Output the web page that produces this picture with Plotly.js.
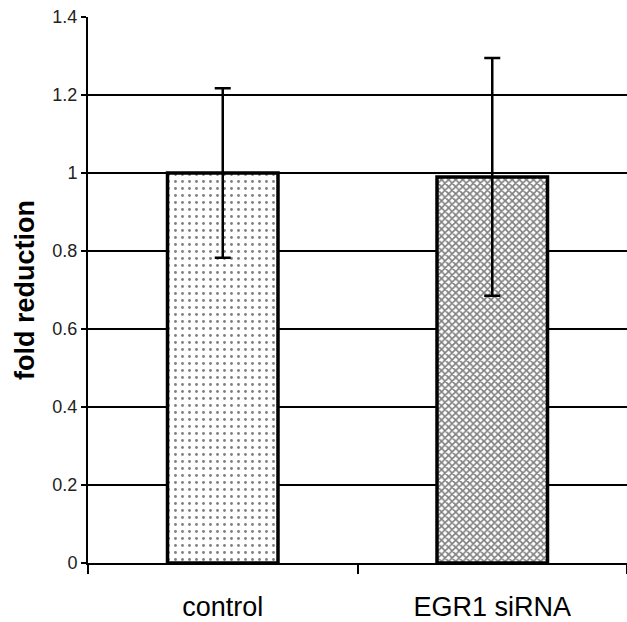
<!DOCTYPE html>
<html>
<head>
<meta charset="utf-8">
<script src="https://cdn.plot.ly/plotly-3.0.1.min.js"></script>
<style>html,body{margin:0;padding:0;background:#fff;}</style>
</head>
<body>
<div id="chart" style="width:627px;height:622px;"></div>
<script>
var categories = ["control", "EGR1 siRNA"];
var foldValues = [1.0, 0.99];
var errorValues = [0.217, 0.305];
var yTickValues = [0, 0.2, 0.4, 0.6, 0.8, 1, 1.2, 1.4];
var yTickLabels = ["0", "0.2", "0.4", "0.6", "0.8", "1", "1.2", "1.4"];

var trace = {
  type: "bar",
  x: categories,
  y: foldValues,
  width: 0.41,
  error_y: {type: "data", array: errorValues, visible: true, color: "#000", thickness: 2.5, width: 8},
  marker: {
    color: "#fff",
    line: {color: "#000", width: 3.5},
    pattern: {
      shape: [".", "x"],
      size: [7, 5],
      solidity: [0.13, 0.55],
      fgcolor: "#000",
      bgcolor: "#fff",
      fillmode: "overlay"
    }
  },
  hoverinfo: "none"
};

var layout = {
  width: 627, height: 622,
  margin: {l: 88, r: 0, t: 17, b: 59, pad: 0},
  paper_bgcolor: "#fff", plot_bgcolor: "#fff",
  showlegend: false,
  font: {family: "Liberation Sans, Arial, sans-serif", color: "#000"},
  xaxis: {
    type: "category",
    range: [-0.5, 1.5],
    tickson: "boundaries",
    ticks: "outside", ticklen: 9, tickwidth: 2, tickcolor: "#000",
    showline: true, linecolor: "#000", linewidth: 2,
    showgrid: false, zeroline: false,
    tickfont: {size: 27, color: "#000"},
    ticklabelstandoff: 19
  },
  yaxis: {
    range: [0, 1.4],
    tickvals: yTickValues, ticktext: yTickLabels,
    ticks: "outside", ticklen: 5, tickwidth: 2, tickcolor: "#000",
    showline: true, linecolor: "#000", linewidth: 2,
    showgrid: true, gridcolor: "#000", gridwidth: 2.5,
    zeroline: false,
    tickfont: {size: 18, color: "#222"},
    title: {text: "<b>fold reduction</b>", font: {size: 27, color: "#000"}, standoff: 10}
  }
};

Plotly.newPlot("chart", [trace], layout, {staticPlot: true, displayModeBar: false});
</script>
</body>
</html>
